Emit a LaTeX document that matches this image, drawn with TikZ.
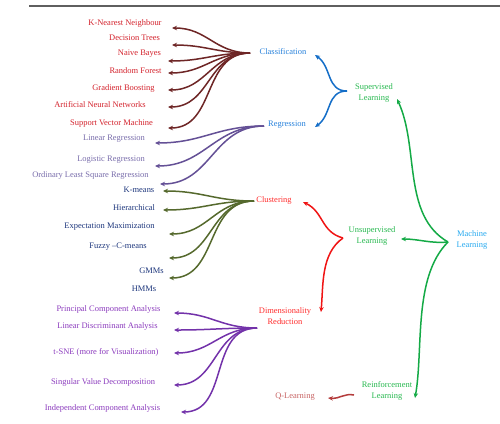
\documentclass[tikz,border=0pt]{standalone}
\usepackage{fontspec}
\setmainfont{Liberation Serif}
\usetikzlibrary{arrows.meta}
\definecolor{clstext}{RGB}{212,35,45}
\definecolor{clsline}{RGB}{110,38,38}
\definecolor{bluelab}{RGB}{40,130,220}
\definecolor{regtext}{RGB}{122,110,172}
\definecolor{regline}{RGB}{100,80,150}
\definecolor{clutext}{RGB}{30,55,125}
\definecolor{clulinec}{RGB}{85,105,45}
\definecolor{redlab}{RGB}{255,45,45}
\definecolor{drtext}{RGB}{140,60,190}
\definecolor{drline}{RGB}{115,50,170}
\definecolor{greenlab}{RGB}{40,185,80}
\definecolor{greenline}{RGB}{20,170,70}
\definecolor{mllab}{RGB}{40,170,240}
\definecolor{bluebr}{RGB}{20,110,200}
\definecolor{redbr}{RGB}{240,20,20}
\definecolor{qtext}{RGB}{200,100,100}
\definecolor{qline}{RGB}{180,60,60}
\definecolor{rulegray}{RGB}{95,95,95}
\tikzset{
  lab/.style={font=\fontsize{8.5}{11}\selectfont, inner sep=0pt, align=center},
  conn/.style={line width=1.5bp, -{Stealth[length=5bp,width=4.5bp]}},
  fan/.style={out=180,in=0,looseness=1.1},
}
\begin{document}
\begin{tikzpicture}[x=1bp,y=-1bp]
\useasboundingbox (0,0) rectangle (500,423);
\fill[white] (0,0) rectangle (500,423);
% top rule
\draw[line width=1.6bp, rulegray] (29,6) -- (500,6);

% ---------- labels ----------
\node[lab, text=bluelab] (cls) at (283,52) {Classification};
\node[lab, text=bluelab] (reg) at (287,125) {Regression};
\node[lab, text=greenlab] (sup) at (374,93) {Supervised\\Learning};
\node[lab, text=redlab] (clu) at (274,200) {Clustering};
\node[lab, text=greenlab] (uns) at (372,236) {Unsupervised\\Learning};
\node[lab, text=mllab] (ml) at (472,240) {Machine\\Learning};
\node[lab, text=redlab] (dr) at (285,316) {Dimensionality\\Reduction};
\node[lab, text=greenlab] (rl) at (387,391) {Reinforcement\\Learning};
\node[lab, text=qtext] (ql) at (295,397) {Q-Learning};

% classification items
\node[lab, text=clstext] (c1) at (125,23) {K-Nearest Neighbour};
\node[lab, text=clstext] (c2) at (134.5,38) {Decision Trees};
\node[lab, text=clstext] (c3) at (139.5,54) {Naive Bayes};
\node[lab, text=clstext] (c4) at (135.5,71) {Random Forest};
\node[lab, text=clstext] (c5) at (123.5,88) {Gradient Boosting};
\node[lab, text=clstext] (c6) at (100,105) {Artificial Neural Networks};
\node[lab, text=clstext] (c7) at (111.5,123) {Support Vector Machine};
% regression items
\node[lab, text=regtext] (r1) at (114,139) {Linear Regression};
\node[lab, text=regtext] (r2) at (111,160) {Logistic Regression};
\node[lab, text=regtext] (r3) at (90.5,175) {Ordinary Least Square Regression};
% clustering items
\node[lab, text=clutext] (k1) at (139,190) {K-means};
\node[lab, text=clutext] (k2) at (134,208) {Hierarchical};
\node[lab, text=clutext] (k3) at (109.5,227) {Expectation Maximization};
\node[lab, text=clutext] (k4) at (118,247) {Fuzzy –C-means};
\node[lab, text=clutext] (k5) at (151.5,271) {GMMs};
\node[lab, text=clutext] (k6) at (144,289) {HMMs};
% dimensionality reduction items
\node[lab, text=drtext] (d1) at (108.5,309) {Principal Component Analysis};
\node[lab, text=drtext] (d2) at (107.5,326) {Linear Discriminant Analysis};
\node[lab, text=drtext] (d3) at (106,352) {t-SNE (more for Visualization)};
\node[lab, text=drtext] (d4) at (103,382) {Singular Value Decomposition};
\node[lab, text=drtext] (d5) at (102.5,408) {Independent Component Analysis};

% ---------- hubs and arrow ends ----------
\coordinate (hc) at (250,53);
\coordinate (hr) at (264,126);
\coordinate (hk) at (254,201);
\coordinate (hd) at (257,328);
\coordinate (hs) at (347,91);
\coordinate (hu) at (343,238);
\coordinate (hm) at (448,242);
\coordinate (hq) at (354,395);

\coordinate (tc1) at (172,28);
\coordinate (tc2) at (172,45);
\coordinate (tc3) at (168,61);
\coordinate (tc4) at (168,73);
\coordinate (tc5) at (168,90);
\coordinate (tc6) at (168,107);
\coordinate (tc7) at (168,128);
\coordinate (tr1) at (155,143);
\coordinate (tr2) at (155,166);
\coordinate (tr3) at (160,184);
\coordinate (tk1) at (163,191);
\coordinate (tk2) at (163,210);
\coordinate (tk3) at (169,234);
\coordinate (tk4) at (169,258);
\coordinate (tk5) at (169,278);
\coordinate (td1) at (174,313);
\coordinate (td2) at (174,330);
\coordinate (td3) at (174,353);
\coordinate (td4) at (174,385);
\coordinate (td5) at (181,412);
\coordinate (tcls) at (315,55);
\coordinate (treg) at (315,127);
\coordinate (tclu) at (303,202);
\coordinate (tdr) at (321,312);
\coordinate (tsup) at (397,99);
\coordinate (tuns) at (401,239);
\coordinate (trl) at (415,398);
\coordinate (tq) at (328,398);

% ---------- connectors ----------
\foreach \t in {tc1,tc2,tc3,tc4,tc5,tc6,tc7}
  \draw[conn, clsline] (hc) to[fan] (\t);
\foreach \t in {tr1,tr2,tr3}
  \draw[conn, regline] (hr) to[fan] (\t);
\foreach \t in {tk1,tk2,tk3,tk4,tk5}
  \draw[conn, clulinec] (hk) to[fan] (\t);
\foreach \t in {td1,td2,td3,td4,td5}
  \draw[conn, drline] (hd) to[fan] (\t);

\draw[conn, bluebr] (hs) to[out=180,in=-35,looseness=1.1] (tcls);
\draw[conn, bluebr] (hs) to[out=180,in=35,looseness=1.1] (treg);
\draw[conn, redbr] (hu) to[out=165,in=-25,looseness=1.1] (tclu);
\draw[conn, redbr] (hu) to[out=215,in=85,looseness=0.9] (tdr);
\draw[conn, greenline] (hm) to[out=150,in=-65,looseness=0.9] (tsup);
\draw[conn, greenline] (hm) to[out=185,in=0] (tuns);
\draw[conn, greenline] (hm) to[out=225,in=80,looseness=0.8] (trl);
\draw[conn, qline] (hq) .. controls (344,393) and (340,399) .. (tq);
\end{tikzpicture}
\end{document}
